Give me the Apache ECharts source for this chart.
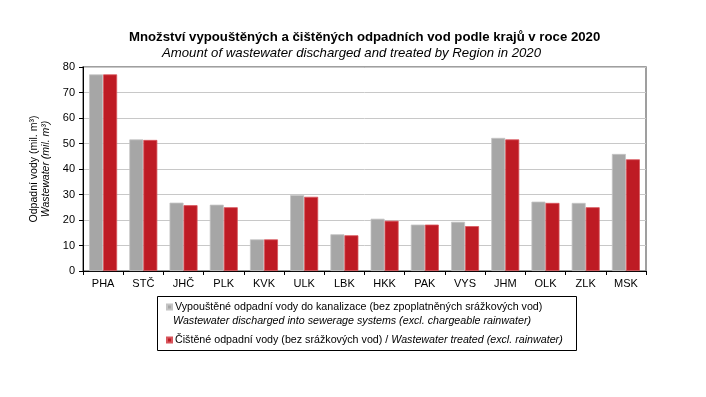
<!DOCTYPE html>
<html>
<head>
<meta charset="utf-8">
<script src="https://cdn.jsdelivr.net/npm/echarts@6/dist/echarts.min.js"></script>
<style>html,body{margin:0;padding:0;background:#fff}#c{width:706px;height:397px}</style>
</head>
<body>
<div id="c"></div>
<script>
const categories = ['PHA','STČ','JHČ','PLK','KVK','ULK','LBK','HKK','PAK','VYS','JHM','OLK','ZLK','MSK'];
const discharged = [77.1, 51.6, 26.8, 26.0, 12.4, 29.8, 14.4, 20.5, 18.2, 19.3, 52.2, 27.2, 26.7, 45.9];
const treated    = [77.1, 51.4, 25.8, 25.0, 12.4, 29.1, 14.0, 19.7, 18.2, 17.6, 51.6, 26.7, 25.0, 43.8];
const yTicks = [0, 10, 20, 30, 40, 50, 60, 70, 80];

const FONT = 'Arial, "Liberation Sans", sans-serif';
const nameDis = 'Vypouštěné odpadní vody do kanalizace (bez zpoplatněných srážkových vod)';
const nameDisEn = 'Wastewater discharged into sewerage systems (excl. chargeable rainwater)';
const nameTre = 'Čištěné odpadní vody (bez srážkových vod)';
const nameTreEn = 'Wastewater treated (excl. rainwater)';
const LF = 10.7;

const chart = echarts.init(document.getElementById('c'), null, {renderer: 'canvas'});
chart.setOption({
  animation: false,
  backgroundColor: '#fff',
  title: [
    {text: 'Množství vypouštěných a čištěných odpadních vod podle krajů v roce 2020', left: 129, top: 31, padding: 0,
     textStyle: {fontFamily: FONT, fontSize: 13.2, fontWeight: 'bold', color: '#000'}},
    {text: 'Amount of wastewater discharged and treated by Region in 2020', left: 162, top: 47, padding: 0,
     textStyle: {fontFamily: FONT, fontSize: 13.2, fontStyle: 'italic', fontWeight: 'normal', color: '#000'}}
  ],
  grid: {left: 83, right: 60, top: 67, bottom: 126, show: true, borderColor: '#808080', borderWidth: 1.5, backgroundColor: 'transparent'},
  xAxis: {
    type: 'category', data: categories,
    axisLine: {lineStyle: {color: '#000', width: 1}},
    axisTick: {show: true, length: 4, lineStyle: {color: '#000'}},
    axisLabel: {fontFamily: FONT, fontSize: 11, color: '#000', margin: 7}
  },
  yAxis: {
    type: 'value', min: yTicks[0], max: yTicks[yTicks.length - 1], interval: 10,
    axisLine: {show: true, lineStyle: {color: '#000', width: 1}},
    axisTick: {show: true, length: 4, lineStyle: {color: '#000'}},
    axisLabel: {fontFamily: FONT, fontSize: 11, color: '#000', margin: 8},
    splitLine: {lineStyle: {color: '#c8c8c8', width: 1}},
    name: '{a|Odpadní vody (mil. m³)}\n{b|Wastewater (mil. m³)}',
    nameLocation: 'middle', nameRotate: 90, nameGap: 30,
    nameTextStyle: {
      fontFamily: FONT, fontSize: 10.5, color: '#000', lineHeight: 12,
      rich: {
        a: {fontFamily: FONT, fontSize: 10.5, color: '#000', lineHeight: 12},
        b: {fontFamily: FONT, fontSize: 10.5, color: '#000', fontStyle: 'italic', lineHeight: 12}
      }
    }
  },
  legend: {
    orient: 'vertical', left: 166, top: 300, padding: 0, itemGap: 19,
    itemWidth: 5, itemHeight: 5, icon: 'rect',
    data: [nameDis, nameTre],
    formatter: function (n) {
      return n === nameTre ? '{n|' + nameTre + ' / }{i|' + nameTreEn + '}' : '{n|' + n + '}';
    },
    textStyle: {
      fontFamily: FONT, fontSize: LF, color: '#000', lineHeight: 14, padding: [0, 0, 0, -2],
      rich: {
        n: {fontFamily: FONT, fontSize: LF, color: '#000', lineHeight: 14},
        i: {fontFamily: FONT, fontSize: LF, color: '#000', fontStyle: 'italic', lineHeight: 14}
      }
    }
  },
  graphic: [
    {type: 'rect', shape: {x: 157.5, y: 296.5, width: 419, height: 54}, style: {fill: 'none', stroke: '#000', lineWidth: 1}, z: -1},
    {type: 'text', left: 173, top: 316, style: {text: nameDisEn, font: 'italic ' + LF + 'px ' + FONT, fill: '#000'}}
  ],
  series: [
    {name: nameDis, type: 'bar', data: discharged, barWidth: 14, barGap: '0%',
     itemStyle: {color: '#a6a6a6', borderColor: '#c4c4c4', borderWidth: 0.8}},
    {name: nameTre, type: 'bar', data: treated, barWidth: 14, barGap: '0%',
     itemStyle: {color: '#be1b24', borderColor: '#d8555c', borderWidth: 0.8}}
  ]
});
</script>
</body>
</html>
